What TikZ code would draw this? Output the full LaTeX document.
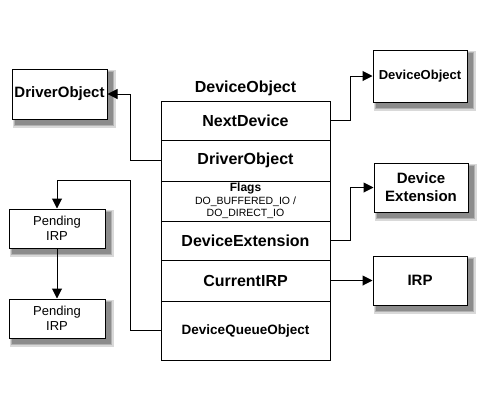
\documentclass[tikz,border=0pt]{standalone}
\usepackage{fontspec}
\setmainfont{Liberation Sans}
\usepackage{tikz}
\usetikzlibrary{arrows.meta,backgrounds,positioning}

\begin{document}
\begin{tikzpicture}[x=1pt,y=-1pt,
  rowbox/.style={draw,line width=1pt,minimum width=169pt,inner sep=0pt,
    font=\fontsize{16}{19}\selectfont\bfseries},
  objbox/.style={draw,line width=1pt,fill=white,inner sep=0pt,align=center},
  link/.style={line width=1pt,-{Triangle[length=10pt,width=10pt]}}]
\useasboundingbox (0,0) rectangle (500,400);

% the device object and its fields
\node[font=\fontsize{16}{19}\selectfont\bfseries] (title) at (245.5,88) {DeviceObject};
\node[rowbox,minimum height=39pt] (next) at (245.5,120.5) {NextDevice};
\node[rowbox,minimum height=41pt] (drvrow) at (245.5,160.5) {DriverObject};
\node[rowbox,minimum height=40pt,align=center,font=\fontsize{10.5}{12.5}\selectfont] (flags) at (245.5,201)
  {{\bfseries\fontsize{12}{12.5}\selectfont Flags}\\DO\_BUFFERED\_IO /\\DO\_DIRECT\_IO};
\node[rowbox,minimum height=39pt] (ext) at (245.5,240.5) {DeviceExtension};
\node[rowbox,minimum height=41pt] (cur) at (245.5,280.5) {CurrentIRP};
\node[rowbox,minimum height=59pt,font=\fontsize{13.5}{16}\selectfont\bfseries] (queue) at (245.5,330.5) {DeviceQueueObject};

% objects pointed to
\node[objbox,minimum width=95pt,minimum height=50pt,font=\fontsize{15}{18}\selectfont\bfseries] (drvobj) at (59.5,94) {DriverObject};
\node[objbox,minimum width=94pt,minimum height=52pt,font=\fontsize{13}{16}\selectfont\bfseries] (devobj) at (420,76) {DeviceObject};
\node[objbox,minimum width=94pt,minimum height=49pt,font=\fontsize{15}{18}\selectfont\bfseries] (devext) at (421,187.5) {Device\\Extension};
\node[objbox,minimum width=94pt,minimum height=49pt,font=\fontsize{15}{18}\selectfont\bfseries] (irp) at (420,280.5) {IRP};
\node[objbox,minimum width=96pt,minimum height=39pt,font=\fontsize{13}{15}\selectfont] (pend1) at (57,228.5) {Pending\\IRP};
\node[objbox,minimum width=96pt,minimum height=39pt,font=\fontsize{13}{15}\selectfont] (pend2) at (57,318.5) {Pending\\IRP};

% shadows
\begin{scope}[on background layer]
\foreach \n in {drvobj,devobj,devext,irp,pend1,pend2}{
  \fill[black!15] ([shift={(1,1)}]\n.north west) rectangle ([shift={(8,8)}]\n.south east);
  \fill[black!30] ([shift={(2,2)}]\n.north west) rectangle ([shift={(6.5,6.5)}]\n.south east);
  \fill[black!45] ([shift={(3,3)}]\n.north west) rectangle ([shift={(5,5)}]\n.south east);
}
\end{scope}

% turning points
\coordinate (dturn) at (130,94);
\coordinate (qturn) at (130,180);
\coordinate (nturn) at (350,76);
\coordinate (eturn) at (350,187.5);

\draw[link] (drvrow.west) -| (dturn) -- (drvobj.east);
\draw[link] (queue.west) -| (qturn) -| (pend1.north);
\draw[link] (pend1.south) -- (pend2.north);
\draw[link] (next.east) -| (nturn) -- (devobj.west);
\draw[link] (ext.east) -| (eturn) -- (devext.west);
\draw[link] (cur.east) -- (irp.west);
\end{tikzpicture}
\end{document}
